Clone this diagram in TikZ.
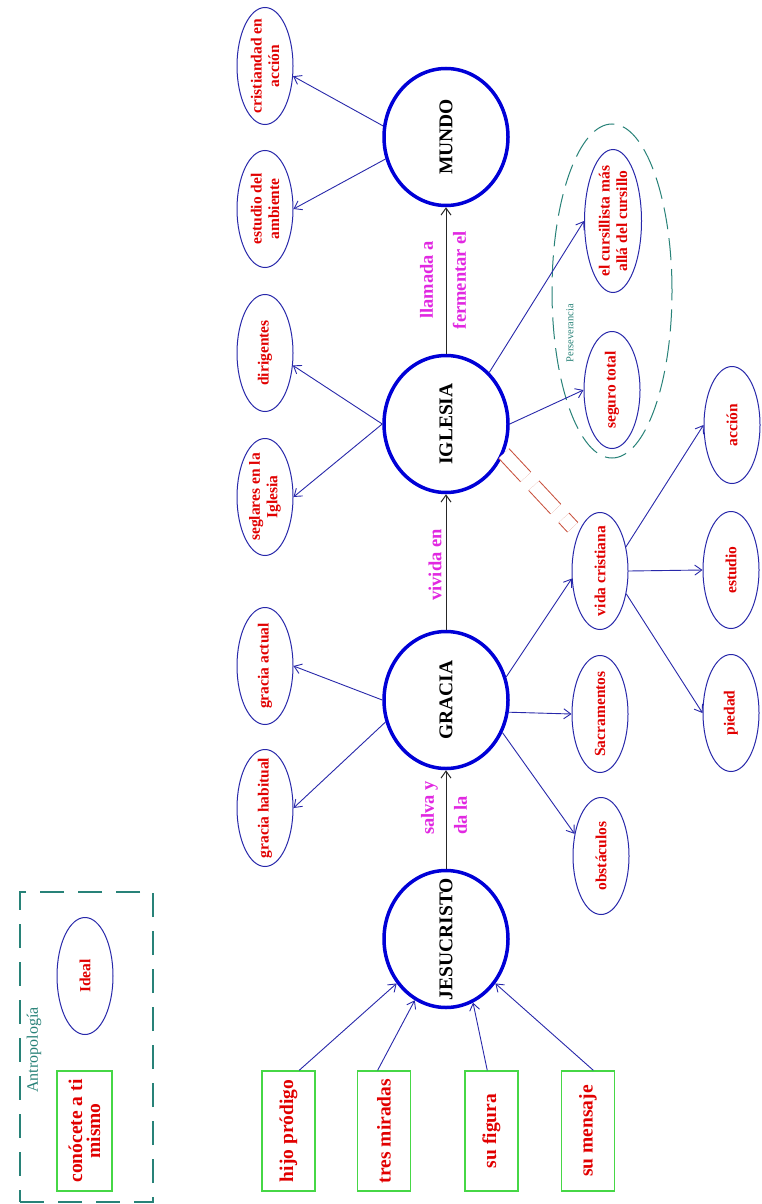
\documentclass[tikz,border=0pt]{standalone}
\usepackage{fontspec}
\setmainfont{Liberation Serif}
\usetikzlibrary{shapes.geometric,arrows.meta}
\definecolor{mainblue}{RGB}{0,0,215}
\definecolor{lblue}{RGB}{40,40,170}
\definecolor{tred}{RGB}{225,0,0}
\definecolor{tmag}{RGB}{225,40,225}
\definecolor{tgreen}{RGB}{70,215,70}
\definecolor{tteal}{RGB}{40,130,120}
\definecolor{dred}{RGB}{200,80,60}
\begin{document}
\begin{tikzpicture}[x=1pt,y=-1pt,
  mainc/.style={ellipse, draw=mainblue, line width=3.5pt, minimum width=124pt, minimum height=137pt, inner sep=0pt},
  smallel/.style={ellipse, draw=lblue, line width=1pt, minimum width=56pt, minimum height=117pt, inner sep=0pt},
  grect/.style={rectangle, draw=tgreen, line width=1.4pt, minimum width=53pt, minimum height=120pt, inner sep=0pt},
  maintxt/.style={rotate=90, font=\fontsize{19.5}{22}\selectfont\bfseries, text=black},
  redtxt/.style={rotate=90, align=center, font=\fontsize{15.5}{17.5}\selectfont\bfseries, text=tred, inner sep=0pt},
  recttxt/.style={rotate=90, align=center, font=\fontsize{19.5}{18}\selectfont\bfseries, text=tred, inner sep=0pt},
  magtxt/.style={rotate=90, font=\fontsize{18.5}{33}\selectfont\bfseries, text=tmag, inner sep=0pt},
  conn/.style={draw=lblue, line width=0.9pt, -{Straight Barb[length=7pt,width=10pt]}},
  mainarr/.style={draw=black!85, line width=1pt, -{Straight Barb[length=7pt,width=10pt]}}
]
\useasboundingbox[fill=white] (0,0) rectangle (762,1204);

% main circles
\node[mainc] (mu) at (446,137) {};
\node[mainc] (ig) at (446,424) {};
\node[mainc] (gr) at (446,700) {};
\node[mainc] (jc) at (446,939) {};
\node[maintxt] (mu-t) at (mu) {MUNDO};
\node[maintxt] (ig-t) at (ig) {IGLESIA};
\node[maintxt] (gr-t) at (gr) {GRACIA};
\node[maintxt] (jc-t) at (jc) {JESUCRISTO};

% left column ellipses
\node[smallel] (cea) at (265,66) {};
\node[smallel] (ea) at (265,209) {};
\node[smallel] (dir) at (265,353) {};
\node[smallel] (seg) at (265,497) {};
\node[smallel] (gact) at (265,666) {};
\node[smallel] (ghab) at (265,808) {};
\node[redtxt] (cea-t) at (cea) {cristiandad en\\acción};
\node[redtxt] (ea-t) at (ea) {estudio del\\ambiente};
\node[redtxt] (dir-t) at (dir) {dirigentes};
\node[redtxt] (seg-t) at (seg) {seglares en la\\Iglesia};
\node[redtxt] (gact-t) at (gact) {gracia actual};
\node[redtxt] (ghab-t) at (ghab) {gracia habitual};

% right side ellipses
\node[smallel, minimum height=143pt, minimum width=57pt] (ec) at (613,221) {};
\node[smallel] (st) at (612,390) {};
\node[smallel] (vc) at (600,571) {};
\node[smallel] (sac) at (600,714) {};
\node[smallel] (obs) at (601,856) {};
\node[smallel] (acc) at (732,425) {};
\node[smallel] (est) at (731,570) {};
\node[smallel] (pie) at (731,713) {};
\node[redtxt] (ec-t) at (ec) {el cursillista más\\allá del cursillo};
\node[redtxt] (st-t) at (st) {seguro total};
\node[redtxt] (vc-t) at (vc) {vida cristiana};
\node[redtxt] (sac-t) at (sac) {Sacramentos};
\node[redtxt] (obs-t) at (obs) {obstáculos};
\node[redtxt] (acc-t) at (acc) {acción};
\node[redtxt] (est-t) at (est) {estudio};
\node[redtxt] (pie-t) at (pie) {piedad};

% perseverancia group
\node[ellipse, draw=tteal, line width=1pt, dash pattern=on 22pt off 9pt, minimum width=120pt, minimum height=334pt, inner sep=0pt] (pers) at (612,291) {};
\node[rotate=90, text=tteal, font=\fontsize{10.5}{12}\selectfont, inner sep=0pt] (pers-t) at (570,333) {Perseverancia};

% antropologia group
\node[rectangle, draw=tteal, line width=1.5pt, dash pattern=on 24pt off 14pt, minimum width=133pt, minimum height=310pt, inner sep=0pt] (antro) at (86.5,1047) {};
\node[rotate=90, text=tteal, font=\fontsize{16}{18}\selectfont, inner sep=0pt] (antro-t) at (34,1050) {Antropología};
\node[smallel] (ideal) at (85,976) {};
\node[redtxt] (ideal-t) at (ideal) {Ideal};
\node[grect, minimum width=55pt] (con) at (84.5,1131) {};
\node[recttxt] (con-t) at (con) {conócete a ti\\mismo};

% green rects
\node[grect] (hp) at (288.5,1131) {};
\node[grect] (tm) at (384,1131) {};
\node[grect] (sf) at (491.5,1131) {};
\node[grect] (sm) at (588,1131) {};
\node[recttxt] (hp-t) at (hp) {hijo pródigo};
\node[recttxt] (tm-t) at (tm) {tres miradas};
\node[recttxt] (sf-t) at (sf) {su figura};
\node[recttxt] (sm-t) at (sm) {su mensaje};

% main arrows and labels
\draw[mainarr] (jc.north) -- (gr.south);
\draw[mainarr] (gr.north) -- (ig.south);
\draw[mainarr] (ig.north) -- (mu.south);
\node[magtxt, align=left] (lab1) at (444,808) {salva y\\da la};
\node[magtxt] (lab2) at (435,565) {vivida en};
\node[magtxt, align=center] (lab3) at (443,280) {llamada a\\fermentar el};

% connectors
\draw[conn] (mu.170) -- (cea.-20);
\draw[conn] (mu.200) -- (ea.east);
\draw[conn] (ig.west) -- (dir.-24);
\draw[conn] (ig.west) -- (seg.east);
\draw[conn] (gr.west) -- (gact.east);
\draw[conn] (gr.200) -- (ghab.east);
\draw[conn] (ig.east) -- (st.west);
\draw[conn] (ig.50) -- (ec.west);
\draw[conn] (gr.21) -- (vc.195);
\draw[conn] (gr.-11) -- (sac.west);
\draw[conn] (gr.-30) -- (obs.140);
\draw[conn] (vc.43) -- (acc.west);
\draw[conn] (vc.east) -- (est.west);
\draw[conn] (vc.-41) -- (pie.west);
\draw[conn] (hp.80) -- (jc.222);
\draw[conn] (tm.96) -- (jc.243);
\draw[conn] (sf.94) -- (jc.-67);
\draw[conn] (sm.85) -- (jc.-42);

% red double dashed link
\draw[draw=dred, line width=1pt, double=white, double distance=13pt, dash pattern=on 32pt off 12pt, shorten >=8pt] (ig.-27) -- (vc.120);
\end{tikzpicture}
\end{document}
